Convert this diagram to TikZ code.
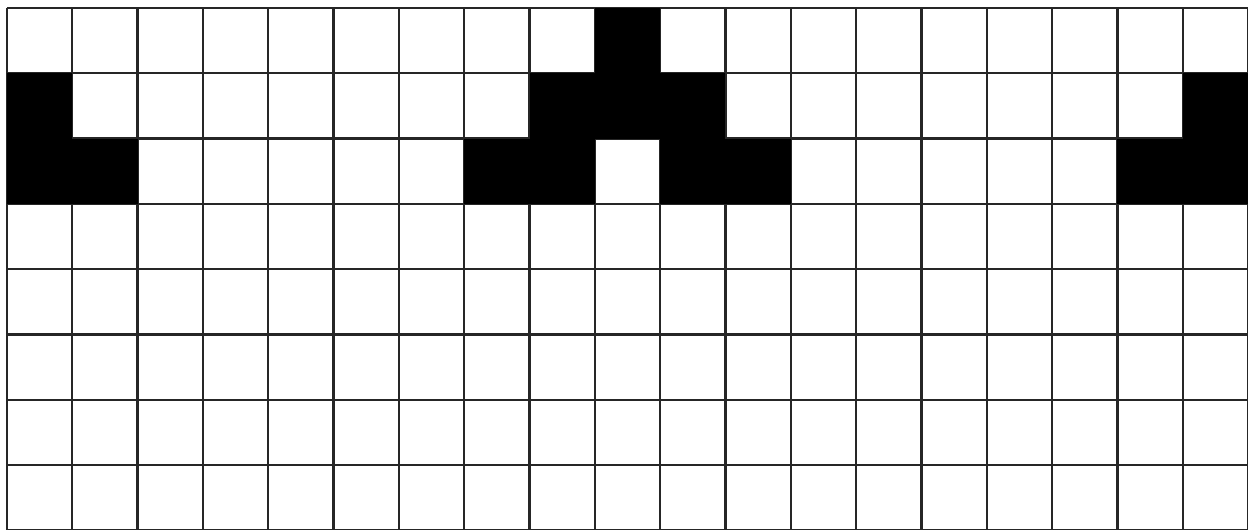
\documentclass[tikz,border=0pt]{standalone}
\begin{document}
\begin{tikzpicture}[x=1cm, y=1cm]
    \tikzset{cellfill/.style={fill=black}, gridline/.style={line width=1pt, black!85}}
    \useasboundingbox (-0.107,0.02) rectangle (19.0,8.1225);
    \fill[white] (-0.107,0.02) rectangle (19.0,8.1225);

    % Lưới ô vuông
    \draw[gridline] (0,0) grid (19,8);

    % Ô tô đen (cột, hàng tính từ trên xuống)
    \foreach \c/\r in {9/0, 0/1, 8/1, 9/1, 10/1, 18/1,
                       0/2, 1/2, 7/2, 8/2, 10/2, 11/2, 17/2, 18/2}
        \fill[cellfill] (\c,{7-\r}) rectangle ++(1,1);
\end{tikzpicture}
\end{document}
